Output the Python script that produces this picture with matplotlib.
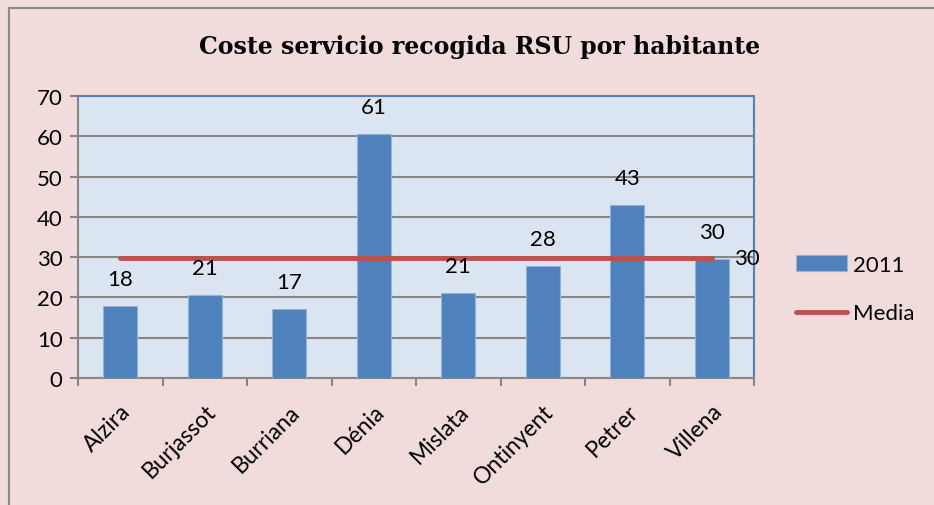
import numpy as np
import matplotlib.pyplot as plt
from matplotlib.patches import Rectangle

municipios = ["Alzira", "Burjassot", "Burriana", "Dénia", "Mislata", "Ontinyent", "Petrer", "Villena"]
coste_2011 = [17.9, 20.6, 17.2, 60.6, 21.2, 27.7, 42.9, 29.6]
media = [29.8] * len(municipios)

azul = "#4f81bd"
rojo = "#c0504d"
gris = "#868686"

plt.rcParams['font.family'] = ['Lato', 'DejaVu Sans']

fig = plt.figure(figsize=(9.34, 5.06), dpi=100, facecolor="#f2dcdb")
# marco exterior del grafico
fig.patches.append(Rectangle((9/934, -0.5), 2.0, 1 - 9/506 + 0.5, transform=fig.transFigure,
                             fill=False, edgecolor="#8c8c8c", linewidth=1.5))

ax = fig.add_axes([78/934, 1 - 379/506, (754 - 78)/934, (379 - 97)/506])
ax.set_facecolor("#dbe5f1")

x = np.arange(len(municipios))
bars = ax.bar(x, coste_2011, width=0.4, color=azul, edgecolor="#95b3d7", linewidth=0.8,
              label="2011", zorder=3)
ax.plot(x, media, color=rojo, linewidth=3.5, solid_capstyle="round", label="Media", zorder=4)

for xi, v in zip(x, coste_2011):
    ax.annotate("%d" % round(v), (xi, v), xytext=(0, 27), textcoords="offset pixels",
                ha="center", va="center", fontsize=16, zorder=5)
ax.annotate("%d" % round(media[-1]), (x[-1], media[-1]), xytext=(35, 0), textcoords="offset pixels",
            ha="center", va="center", fontsize=16, zorder=5)

ax.set_xlim(-0.5, len(municipios) - 0.5)
ax.set_ylim(0, 70)
ax.set_yticks(range(0, 71, 10))
ax.yaxis.grid(True, color=gris, linewidth=1.5, zorder=0)
ax.set_axisbelow(True)

ax.set_xticks(np.arange(-0.5, len(municipios), 1.0))
ax.set_xticklabels([])
ax.set_xticks(x, minor=True)
ax.set_xticklabels(municipios, minor=True, rotation=45, ha="right", va="top",
                   rotation_mode="anchor", fontsize=16.5)
ax.tick_params(axis="x", which="minor", length=0, pad=16)
ax.tick_params(axis="x", which="major", length=6, width=1.5, color=gris, direction="out")
ax.tick_params(axis="y", length=6, width=1.5, color=gris, labelsize=16, pad=5)

ax.spines["left"].set_color(gris)
ax.spines["bottom"].set_color(gris)
ax.spines["left"].set_linewidth(1.5)
ax.spines["bottom"].set_linewidth(1.5)
ax.spines["top"].set_color(azul)
ax.spines["right"].set_color(azul)
ax.spines["top"].set_linewidth(1.5)
ax.spines["right"].set_linewidth(1.5)

fig.text(480/934, 1 - 47/506, "Coste servicio recogida RSU por habitante", ha="center", va="center",
         fontsize=17, fontweight="bold", family=["DejaVu Serif"])

fig.legend(handles=[bars, ax.lines[0]], labels=["2011", "Media"], loc="center left",
           bbox_to_anchor=(796/934, 1 - 290/506), frameon=False, fontsize=16,
           borderaxespad=0, borderpad=0,
           handlelength=2.3, handletextpad=0.27, labelspacing=1.3)

plt.savefig("out.png", dpi=100, facecolor=fig.get_facecolor())
plt.close('all')
